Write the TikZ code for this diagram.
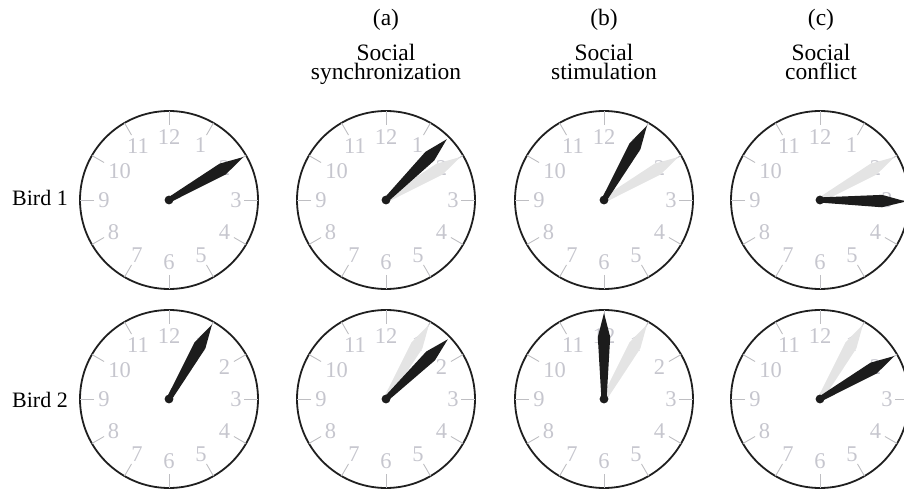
\documentclass[tikz,border=0pt]{standalone}
\usepackage{fontspec}
\setmainfont{Liberation Serif}

\definecolor{numgray}{RGB}{198,198,206}
\definecolor{tickgray}{RGB}{190,190,194}
\definecolor{shadow}{RGB}{228,228,228}
\definecolor{inkhand}{RGB}{28,28,28}

\tikzset{
  rim/.style={draw=black!88,line width=1.8pt},
  hourtick/.style={draw=tickgray,line width=0.9pt},
  numeral/.style={text=numgray,inner sep=0pt,font=\fontsize{22.5}{22.5}\selectfont},
  headtxt/.style={anchor=base,inner sep=0pt,align=center,
    font=\fontsize{23.5}{19}\selectfont},
  birdtxt/.style={anchor=base,inner sep=0pt,font=\fontsize{22}{22}\selectfont},
  % clock face: rim, hour ticks and numerals
  pics/dial/.style={code={
    \draw[rim] (0,0) circle (89);
    \foreach \h/\r in {1/63,2/64,3/67,4/64,5/64,6/62,7/64,8/64,9/65,10/57,11/62,12/63}{
      \draw[hourtick] (90-30*\h:75) -- (90-30*\h:89);
      \node[numeral] (n\h) at (90-30*\h:\r) {\h};
    }
  }},
  % one hand, #1 = angle clockwise from 12
  pics/hand/.style={code={
    \fill[rotate=90-#1] (0,-2.6) -- (62,-6.2) -- (86,0) -- (62,6.2) -- (0,2.6) -- cycle;
    \fill (0,0) circle (4.4);
  }},
}

\begin{document}
\begin{tikzpicture}[x=1pt,y=1pt]
  \path[use as bounding box,clip] (0,0) rectangle (904,490);

  % column headings (base = last line)
  \node[headtxt] (taga) at (386,464) {(a)};
  \node[headtxt] (tagb) at (604,464) {(b)};
  \node[headtxt] (tagc) at (821,464) {(c)};
  \node[headtxt] (tita) at (386,410.5) {Social\\synchronization};
  \node[headtxt] (titb) at (604,410.5) {Social\\stimulation};
  \node[headtxt] (titc) at (821,410.5) {Social\\conflict};

  % row labels
  \node[birdtxt] (bird1) at (40,284) {Bird 1};
  \node[birdtxt] (bird2) at (40,83) {Bird 2};

  % Bird 1
  \pic (d10) at (169,290) {dial};
  \pic[fill=inkhand] at (169,290) {hand=60};

  \pic (d11) at (386,290) {dial};
  \pic[fill=shadow] at (386,290) {hand=60};
  \pic[fill=inkhand] at (386,290) {hand=45};

  \pic (d12) at (604,290) {dial};
  \pic[fill=shadow] at (604,290) {hand=60};
  \pic[fill=inkhand] at (604,290) {hand=30};

  \pic (d13) at (820,290) {dial};
  \pic[fill=shadow] at (820,290) {hand=60};
  \pic[fill=inkhand] at (820,290) {hand=91};

  % Bird 2
  \pic (d20) at (169,91) {dial};
  \pic[fill=inkhand] at (169,91) {hand=30};

  \pic (d21) at (386,91) {dial};
  \pic[fill=shadow] at (386,91) {hand=30};
  \pic[fill=inkhand] at (386,91) {hand=46};

  \pic (d22) at (604,91) {dial};
  \pic[fill=shadow] at (604,91) {hand=30};
  \pic[fill=inkhand] at (604,91) {hand=0};

  \pic (d23) at (820,91) {dial};
  \pic[fill=shadow] at (820,91) {hand=30};
  \pic[fill=inkhand] at (820,91) {hand=60};
\end{tikzpicture}
\end{document}
